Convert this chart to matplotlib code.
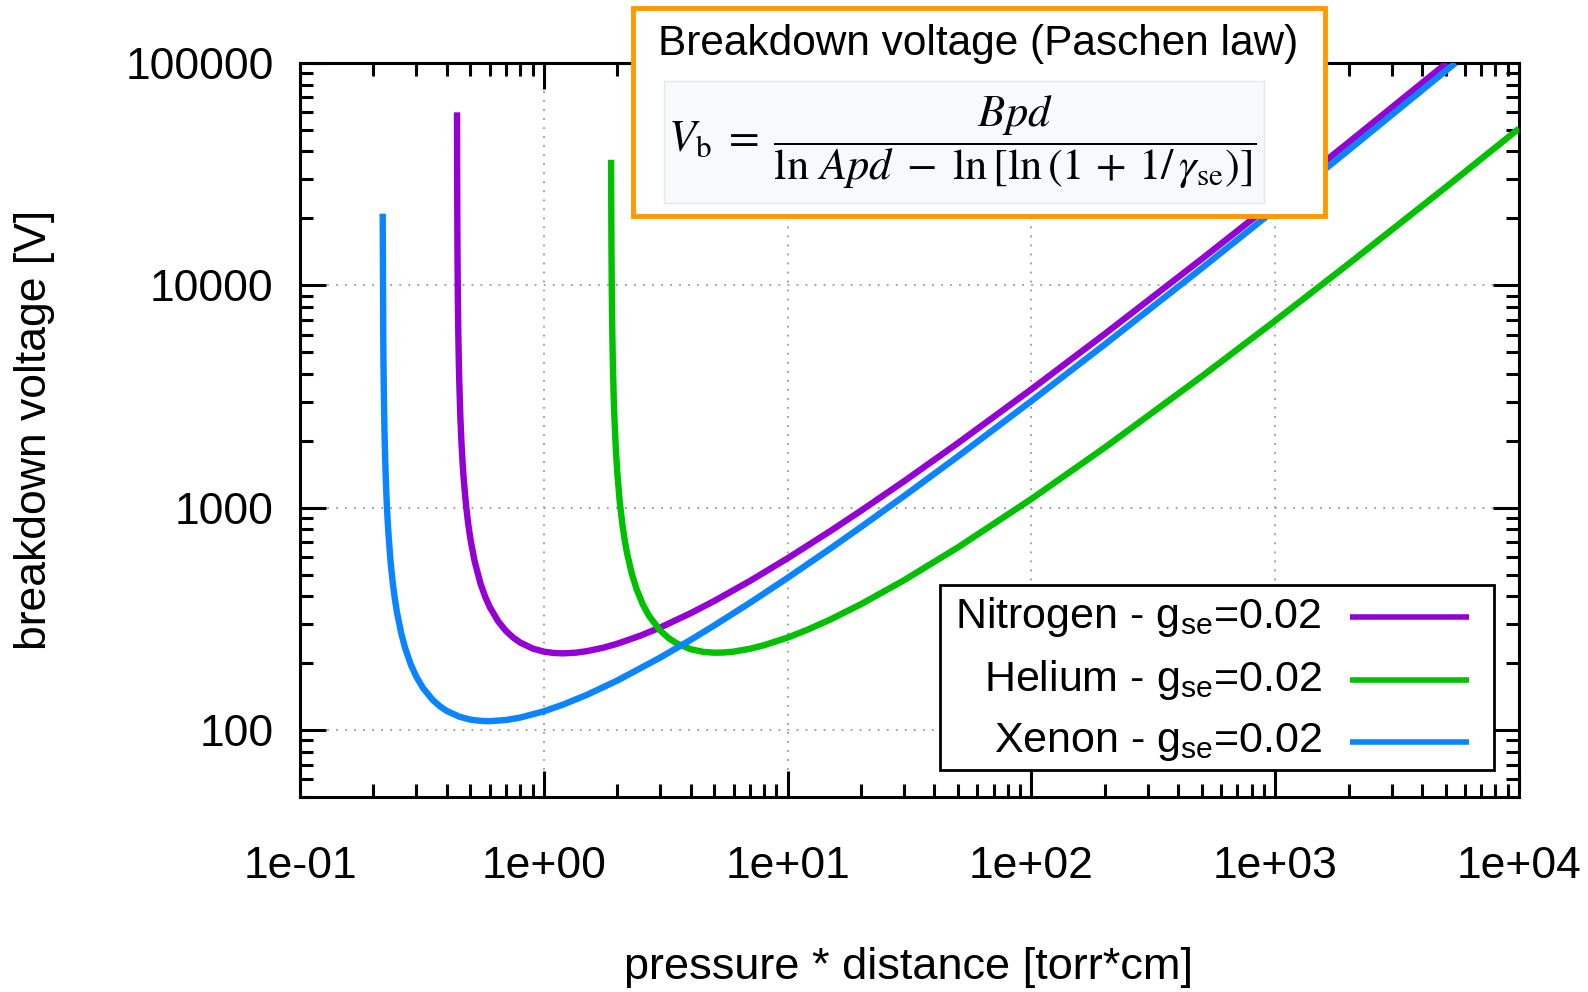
import matplotlib
matplotlib.use('Agg')
import matplotlib.pyplot as plt
import matplotlib.ticker as mticker
from matplotlib.patches import Rectangle
from matplotlib.lines import Line2D

# ---------------- data ----------------
nitrogen_pd = [0.4406, 0.441, 0.442, 0.443, 0.444, 0.446, 0.448, 0.45, 0.455, 0.46, 0.465,
               0.47, 0.48, 0.49, 0.5, 0.52, 0.55, 0.575, 0.6, 0.65, 0.7, 0.75, 0.8, 0.9,
               1.0, 1.1, 1.2, 1.35, 1.5, 1.75, 2, 2.5, 3, 4, 5, 7, 10, 15, 20, 30, 50,
               100, 200, 500, 1000, 2000, 5055]
nitrogen_v = [60000, 35940, 18030, 12060, 9076, 6092, 4600, 3704, 2511, 1914, 1557,
              1318, 1021, 842.2, 723.6, 575.9, 456.0, 397.5, 357.9, 308.2, 278.9, 260.2,
              247.6, 232.7, 225.3, 222.1, 221.3, 222.8, 226.3, 234.5, 244.4, 266.2, 289.1,
              335.3, 380.6, 468.0, 592.3, 786.3, 969.4, 1314, 1954, 3409, 6046, 13150,
              23940, 43930, 100000]

helium_pd = [1.8882, 1.8895, 1.89, 1.895, 1.9, 1.91, 1.92, 1.935, 1.95, 1.975, 2.0, 2.05,
             2.1, 2.15, 2.2, 2.3, 2.4, 2.55, 2.7, 3, 3.25, 3.5, 4, 4.5, 5, 5.5, 6, 7, 8,
             10, 12, 15, 20, 30, 50, 100, 200, 500, 1000, 2000, 5000, 10000]
helium_v = [36700, 28200, 25850, 14160, 9773, 6062, 4413, 3151, 2464, 1821, 1456, 1056,
            841.6, 708.1, 617.2, 501.5, 431.3, 366.5, 326.4, 280.5, 259.3, 245.8, 231.1,
            224.8, 222.8, 223.3, 225.3, 232.0, 240.7, 260.6, 281.9, 314.5, 368.3, 471.5,
            663.4, 1095, 1865, 3897, 6933, 12490, 27590, 50720]

xenon_pd = [0.21842, 0.2185, 0.219, 0.2195, 0.22, 0.221, 0.222, 0.2235, 0.225, 0.227, 0.23,
            0.235, 0.24, 0.245, 0.25, 0.26, 0.27, 0.285, 0.3, 0.32, 0.35, 0.375, 0.4, 0.45,
            0.5, 0.55, 0.6, 0.7, 0.8, 1.0, 1.2, 1.5, 2, 3, 4, 5, 7, 10, 15, 20, 30, 50,
            100, 200, 500, 1000, 2000, 5480]
xenon_v = [21000, 17640, 11060, 5922, 4457, 2992, 2259, 1660, 1317, 1038, 794.1, 579.0,
           461.8, 388.2, 337.7, 273.0, 233.5, 196.7, 173.8, 154.2, 136.8, 127.9, 121.9,
           114.9, 111.4, 110.0, 109.6, 111.0, 113.8, 121.4, 130.2, 143.9, 166.9, 211.7,
           254.3, 295.3, 373.3, 483.6, 655.8, 818.8, 1127, 1702, 3019, 5424, 11950, 21940,
           40550, 100000]

series_labels = ['Nitrogen - g$_\\mathrm{se}$=0.02',
                 'Helium - g$_\\mathrm{se}$=0.02',
                 'Xenon - g$_\\mathrm{se}$=0.02']
series_colors = ['#9400D3', '#00C000', '#0A84FF']

x_label = 'pressure * distance [torr*cm]'
y_label = 'breakdown voltage [V]'
box_title = 'Breakdown voltage (Paschen law)'
formula = (r'$V_\mathrm{b} \;=\; \dfrac{Bpd}{\ln\,Apd \;-\; '
           r'\ln\left[\ln\left(1 \,+\, 1/\,\gamma_\mathrm{se}\right)\right]}$')

# ---------------- style ----------------
plt.rcParams['font.family'] = ['Liberation Sans', 'DejaVu Sans']
plt.rcParams['mathtext.fontset'] = 'custom'
plt.rcParams['mathtext.rm'] = 'Liberation Sans'
plt.rcParams['mathtext.it'] = 'Liberation Sans:italic'
plt.rcParams['mathtext.bf'] = 'Liberation Sans:bold'

W, H = 1588, 992
fig = plt.figure(figsize=(W / 100, H / 100), dpi=100)


def fx(px):
    return px / W


def fy(py):
    return 1 - py / H


FS = 32
ax = fig.add_axes([fx(300), fy(797), fx(1519) - fx(300), fy(63) - fy(797)])
ax.set_xscale('log')
ax.set_yscale('log')

for pd, v, c in zip([nitrogen_pd, helium_pd, xenon_pd],
                    [nitrogen_v, helium_v, xenon_v], series_colors):
    ax.plot(pd, v, color=c, lw=4.6, solid_capstyle='butt', solid_joinstyle='round', zorder=3)

ax.set_xlim(0.1, 1e4)
ax.set_ylim(50, 1e5)

ax.xaxis.set_major_locator(mticker.LogLocator(base=10, numticks=20))
ax.xaxis.set_minor_locator(mticker.LogLocator(base=10, subs=range(2, 10), numticks=20))
ax.yaxis.set_major_locator(mticker.LogLocator(base=10, numticks=20))
ax.yaxis.set_minor_locator(mticker.LogLocator(base=10, subs=range(2, 10), numticks=20))
ax.xaxis.set_major_formatter(mticker.FuncFormatter(lambda v, p: f'{v:.0e}'))
ax.yaxis.set_major_formatter(mticker.FuncFormatter(lambda v, p: f'{v:.0f}'))
ax.xaxis.set_minor_formatter(mticker.NullFormatter())
ax.yaxis.set_minor_formatter(mticker.NullFormatter())

ax.tick_params(which='both', direction='in', top=True, right=True, width=2.2, color='black')
ax.tick_params(which='major', length=18.5, labelsize=FS)
ax.tick_params(which='minor', length=9.5)
ax.tick_params(axis='x', which='major', pad=35)
ax.tick_params(axis='y', which='major', pad=19)
for s in ax.spines.values():
    s.set_linewidth(2.2)

ax.grid(True, which='major', color='#999999', linestyle=(0, (1, 4)), linewidth=1.3)
ax.set_axisbelow(True)

fig.text(fx(909), fy(967), x_label, ha='center', va='center', fontsize=32.5)
fig.text(fx(35), fy(430), y_label, ha='center', va='center', rotation=90, fontsize=32)

# legend (gnuplot style: right-aligned text, sample line on the right)
fig.add_artist(Rectangle((fx(940), fy(770)), fx(1494) - fx(940), fy(585) - fy(770),
                         transform=fig.transFigure, facecolor='white', edgecolor='black',
                         lw=2.0, zorder=5))
for i, (lab, c) in enumerate(zip(series_labels, series_colors)):
    yy = 617 + 62.5 * i
    fig.text(fx(1322), fy(yy), lab, ha='right', va='center', fontsize=31, zorder=6)
    fig.add_artist(Line2D([fx(1350), fx(1469)], [fy(yy), fy(yy)], transform=fig.transFigure,
                          color=c, lw=4.0, solid_capstyle='butt', zorder=6))

# formula box
fig.add_artist(Rectangle((fx(633), fy(216)), fx(1325) - fx(633), fy(8) - fy(216),
                         transform=fig.transFigure, facecolor='white', edgecolor='#FF9900',
                         lw=3.5, zorder=10))
fig.text(fx(978), fy(44), box_title, ha='center', va='center', fontsize=30.5, zorder=11)
fig.add_artist(Rectangle((fx(664), fy(203)), fx(1264) - fx(664), fy(81) - fy(203),
                         transform=fig.transFigure, facecolor='#f8f9fa', edgecolor='#e4e7ec',
                         lw=1.0, zorder=11))
fig.text(fx(962), fy(142), formula, ha='center', va='center', fontsize=32,
         math_fontfamily='stix', zorder=12)

fig.savefig('out.png', dpi=100)
